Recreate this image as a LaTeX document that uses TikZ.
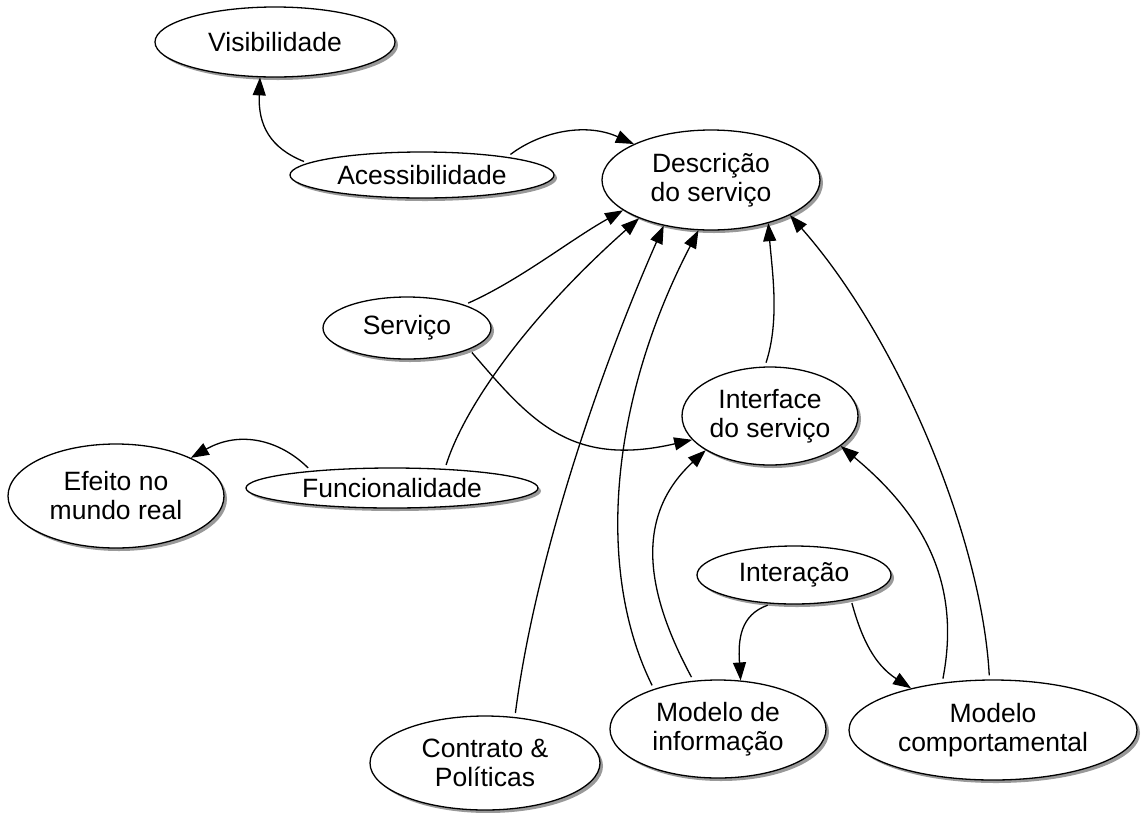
\documentclass[tikz,border=0pt]{standalone}
\usepackage{fontspec}
\setmainfont{Liberation Sans}
\usetikzlibrary{arrows.meta,shapes.geometric,shadows}
\newcommand\nodefont{\fontsize{26.5}{29}\selectfont}
\tikzset{
  ell/.style={ellipse, draw, fill=white, line width=1.3pt, inner sep=0pt, align=center,
    font=\nodefont, drop shadow={shadow xshift=3pt, shadow yshift=-3pt, fill=black!40, opacity=1}},
  conn/.style={line width=1.3pt, -{Triangle[length=18pt,width=13pt]}, shorten <=4pt}
}
\begin{document}
\begin{tikzpicture}[x=1pt,y=-1pt]
\useasboundingbox (0,0) rectangle (1143,812);
\node[ell, minimum width=240pt, minimum height=70pt] (vis) at (275,42) {Visibilidade};
\node[ell, minimum width=264pt, minimum height=46pt] (acc) at (422,175) {Acessibilidade};
\node[ell, minimum width=218pt, minimum height=100pt] (desc) at (711,180) {Descrição\\do serviço};
\node[ell, minimum width=168pt, minimum height=62pt] (serv) at (407,328) {Serviço};
\node[ell, minimum width=176pt, minimum height=98pt] (intf) at (770,416) {Interface\\do serviço};
\node[ell, minimum width=292pt, minimum height=40pt] (func) at (392,488) {Funcionalidade};
\node[ell, minimum width=216pt, minimum height=104pt] (efe) at (116,496) {Efeito no\\mundo real};
\node[ell, minimum width=194pt, minimum height=58pt] (inter) at (794,575) {Interação};
\node[ell, minimum width=216pt, minimum height=98pt] (minf) at (718,729) {Modelo de\\informação};
\node[ell, minimum width=288pt, minimum height=100pt] (mcomp) at (993,730) {Modelo\\comportamental};
\node[ell, minimum width=230pt, minimum height=94pt] (contr) at (485,763) {Contrato \&\\Políticas};

\draw[conn] (acc.174) .. controls (270,148) and (258,125) .. (vis.247);
\draw[conn] (acc.12) .. controls (540,132) and (585,122) .. (desc.155);
\draw[conn] (serv.22) .. controls (520,280) and (570,240) .. (desc.199);
\draw[conn] (func.20) .. controls (465,405) and (530,315) .. (desc.208);
\draw[conn] (contr.57) .. controls (535,560) and (600,370) .. (desc.224);
\draw[conn] (minf.148) .. controls (595,570) and (610,400) .. (desc.256);
\draw[conn] (intf.96) .. controls (780,320) and (772,270) .. (desc.323);
\draw[conn] (mcomp.94) .. controls (982,540) and (900,340) .. (desc.336);
\draw[conn] (serv.341) .. controls (530,420) and (570,468) .. (intf.197);
\draw[conn] (func.168) .. controls (280,440) and (240,430) .. (efe.27);
\draw[conn] (minf.117) .. controls (650,600) and (630,520) .. (intf.208);
\draw[conn] (mcomp.137) .. controls (960,590) and (930,520) .. (intf.337);
\draw[conn] (inter.232) .. controls (740,615) and (738,640) .. (minf.65);
\draw[conn] (inter.337) .. controls (862,640) and (875,665) .. (mcomp.153);
\end{tikzpicture}
\end{document}
